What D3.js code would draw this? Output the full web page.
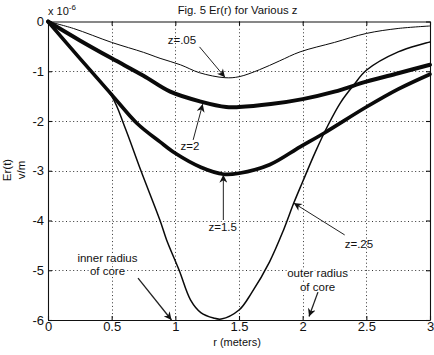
<!DOCTYPE html>
<html><head><meta charset="utf-8">
<script src="https://cdn.jsdelivr.net/npm/d3@7"></script>
<style>
body{margin:0;background:#fff}
svg{display:block}
text{font-family:"Liberation Sans",Arial,sans-serif;fill:#111}
</style>
</head><body>
<svg id="chart" width="434" height="355"></svg>
<script>
// ---- data (r in meters, Er in units of 1e-6 V/m) ----
const xTickLabels = ["0","0.5","1","1.5","2","2.5","3"];
const xTickValues = [0,0.5,1,1.5,2,2.5,3];
const yTickLabels = ["0","-1","-2","-3","-4","-5","-6"];
const yTickValues = [0,-1,-2,-3,-4,-5,-6];

const r_z005 = [0,0.2,0.5,0.75,0.88,1.04,1.19,1.39,1.5,1.66,1.82,1.98,2.25,2.5,2.75,3];
const e_z005 = [0,-0.14,-0.42,-0.62,-0.74,-0.87,-1.03,-1.13,-1.11,-0.97,-0.79,-0.61,-0.42,-0.24,-0.14,-0.09];

const r_z2 = [0,0.25,0.5,0.75,0.96,1.2,1.4,1.5,1.75,2,2.25,2.5,2.75,3];
const e_z2 = [0,-0.38,-0.74,-1.09,-1.41,-1.61,-1.72,-1.72,-1.66,-1.56,-1.41,-1.21,-1.04,-0.87];

const r_z15 = [0,0.25,0.5,0.7,0.88,1,1.2,1.38,1.5,1.74,1.98,2.17,2.5,2.75,3];
const e_z15 = [0,-0.74,-1.47,-2.05,-2.42,-2.65,-2.93,-3.07,-3.05,-2.88,-2.52,-2.24,-1.72,-1.36,-1.06];

const r_z025 = [0,0.25,0.5,0.6,0.73,0.88,0.93,1.03,1.12,1.2,1.3,1.36,1.5,1.6,1.74,1.85,1.93,2.0,2.1,2.2,2.3,2.4,2.5,2.75,3];
const e_z025 = [0,-0.74,-1.5,-2.1,-3.0,-4.0,-4.38,-5.0,-5.6,-5.85,-5.96,-5.98,-5.8,-5.45,-4.83,-4.19,-3.65,-3.22,-2.62,-2.08,-1.62,-1.28,-0.98,-0.61,-0.41];

const seriesNames = ["z=.05","z=2","z=1.5","z=.25"];
const seriesWidths = [1,4,3.6,1.5];

// annotations in data coords: text [r, E], arrow from [r,E] to [r,E]
const annText = ["z=.05","z=2","z=1.5","z=.25"];
const annTextPos = [[0.94,-0.45],[1.04,-2.58],[1.26,-4.21],[2.33,-4.55]];
const annArrowFrom = [[1.19,-0.51],[1.14,-2.38],[1.377,-3.99],[2.33,-4.29]];
const annArrowTo = [[1.39,-1.12],[1.215,-1.66],[1.377,-3.08],[1.93,-3.65]];

const coreLabels = [["inner radius","of core"],["outer radius","of core"]];
const corePos = [[0.467,-4.83],[2.117,-5.14]];
const coreArrowFrom = [[0.707,-5.16],[2.12,-5.44]];
const coreArrowTo = [[0.97,-6.0],[2.05,-5.93]];

// ---- drawing ----
const svg = d3.select("#chart");
const x = d3.scaleLinear().domain([0,3]).range([48,430]);
const y = d3.scaleLinear().domain([-6,0]).range([320,21.5]);

svg.append("defs").append("marker")
  .attr("id","ah").attr("viewBox","0 0 10 10").attr("refX",10).attr("refY",5)
  .attr("markerUnits","userSpaceOnUse").attr("markerWidth",9).attr("markerHeight",8)
  .attr("orient","auto")
  .append("path").attr("d","M0,0 L10,5 L0,10 L3,5 Z").attr("fill","#111");

// grid
const grid = svg.append("g").attr("stroke","#333").attr("stroke-width",1).attr("stroke-dasharray","1,2.6");
grid.selectAll(".gx").data(xTickValues.slice(1,-1)).enter().append("line")
  .attr("x1",d=>Math.round(x(d))+0.5).attr("x2",d=>Math.round(x(d))+0.5)
  .attr("y1",y(0)).attr("y2",y(-6));
grid.selectAll(".gy").data(yTickValues.slice(1,-1)).enter().append("line")
  .attr("y1",d=>Math.round(y(d))+0.5).attr("y2",d=>Math.round(y(d))+0.5)
  .attr("x1",x(0)).attr("x2",x(3));

// axes
const fmtX = d => xTickLabels[xTickValues.indexOf(d)];
const fmtY = d => yTickLabels[yTickValues.indexOf(d)];
const axB = svg.append("g").attr("transform",`translate(0,${y(-6)})`)
  .call(d3.axisBottom(x).tickValues(xTickValues).tickFormat(fmtX).tickSizeInner(-4).tickSizeOuter(0).tickPadding(2));
const axL = svg.append("g").attr("transform",`translate(${x(0)},0)`)
  .call(d3.axisLeft(y).tickValues(yTickValues).tickFormat(fmtY).tickSizeInner(-4).tickSizeOuter(0).tickPadding(4));
const axT = svg.append("g").attr("transform",`translate(0,${y(0)})`)
  .call(d3.axisTop(x).tickValues(xTickValues).tickFormat("").tickSizeInner(-4).tickSizeOuter(0));
const axR = svg.append("g").attr("transform",`translate(${x(3)},0)`)
  .call(d3.axisRight(y).tickValues(yTickValues).tickFormat("").tickSizeInner(-4).tickSizeOuter(0));
[axB,axL,axT,axR].forEach(a=>{
  a.selectAll("path,line").attr("stroke","#111").attr("stroke-width",1.1);
  a.selectAll("text").attr("font-size",13).attr("font-family","\"Liberation Sans\",Arial,sans-serif").attr("fill","#111");
});

// curves
const rs = [r_z005,r_z2,r_z15,r_z025];
const es = [e_z005,e_z2,e_z15,e_z025];
const line = d3.line().x(d=>x(d[0])).y(d=>y(d[1])).curve(d3.curveCatmullRom.alpha(0.5));
rs.forEach((r,i)=>{
  const pts = r.map((v,j)=>[v,es[i][j]]);
  svg.append("path").datum(pts).attr("d",line)
    .attr("fill","none").attr("stroke","#0a0a0a").attr("stroke-width",seriesWidths[i])
    .attr("stroke-linejoin","round").attr("stroke-linecap","round")
    .attr("class","series").attr("data-name",seriesNames[i]);
});

// annotations
const ann = svg.append("g");
annText.forEach((t,i)=>{
  ann.append("text").attr("x",x(annTextPos[i][0])).attr("y",y(annTextPos[i][1]))
    .attr("font-size",11.5).text(t);
  ann.append("line")
    .attr("x1",x(annArrowFrom[i][0])).attr("y1",y(annArrowFrom[i][1]))
    .attr("x2",x(annArrowTo[i][0])).attr("y2",y(annArrowTo[i][1]))
    .attr("stroke","#222").attr("stroke-width",1).attr("marker-end","url(#ah)");
});
coreLabels.forEach((lines,i)=>{
  lines.forEach((t,k)=>{
    ann.append("text").attr("x",x(corePos[i][0])).attr("y",y(corePos[i][1])+k*13.5)
      .attr("text-anchor","middle").attr("font-size",11.5)
      .attr("stroke","#fff").attr("stroke-width",3).attr("paint-order","stroke")
      .text(t);
  });
  ann.append("line")
    .attr("x1",x(coreArrowFrom[i][0])).attr("y1",y(coreArrowFrom[i][1]))
    .attr("x2",x(coreArrowTo[i][0])).attr("y2",y(coreArrowTo[i][1]))
    .attr("stroke","#222").attr("stroke-width",1.3).attr("marker-end","url(#ah)");
});

// titles
svg.append("text").attr("x",237.5).attr("y",14).attr("text-anchor","middle")
  .attr("font-size",11.3).text("Fig. 5 Er(r) for Various z");
const mult = svg.append("text").attr("x",48).attr("y",15).attr("font-size",11);
mult.append("tspan").text("x 10");
mult.append("tspan").attr("dy",-5).attr("font-size",8).text("-6");
svg.append("text").attr("x",237).attr("y",346).attr("text-anchor","middle")
  .attr("font-size",11).text("r (meters)");
svg.append("text").attr("transform","translate(11,170) rotate(-90)")
  .attr("text-anchor","middle").attr("font-size",11.5).text("Er(t)");
svg.append("text").attr("transform","translate(25,170) rotate(-90)")
  .attr("text-anchor","middle").attr("font-size",11.5).text("v/m");
</script>
</body></html>
